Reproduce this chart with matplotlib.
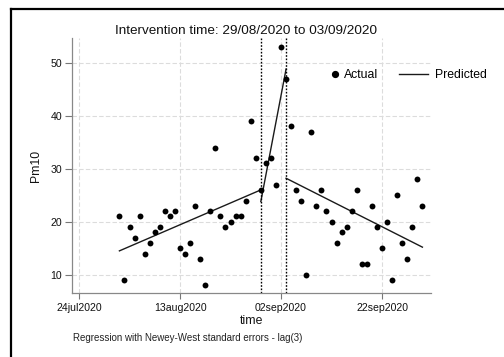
import matplotlib
matplotlib.use("Agg")
import matplotlib.pyplot as plt
import matplotlib.dates as mdates
from matplotlib.lines import Line2D
import pandas as pd

plt.rcParams['font.family'] = ['Liberation Sans', 'DejaVu Sans']

# ---- data ----
dates = pd.date_range("2020-08-01", "2020-09-30", freq="D")
pm10 = [21, 9, 19, 17, 21, 14, 16, 18, 19, 22,
        21, 22, 15, 14, 16, 23, 13, 8, 22, 34,
        21, 19, 20, 21, 21, 24, 39, 32, 26, 31,
        32, 27, 53, 47, 38, 26, 24, 10, 37, 23,
        26, 22, 20, 16, 18, 19, 22, 26, 12, 12,
        23, 19, 15, 20, 9, 25, 16, 13, 19, 28,
        23]

pre_dates = ["2020-08-01", "2020-08-29"]
pre_pred = [14.5, 26.0]
int_dates = ["2020-08-29", "2020-09-03"]
int_pred = [23.8, 48.8]
post_dates = ["2020-09-03", "2020-09-30"]
post_pred = [28.2, 15.2]

intervention = ["2020-08-29", "2020-09-03"]
xtick_dates = ["2020-07-24", "2020-08-13", "2020-09-02", "2020-09-22"]
xtick_labels = ["24jul2020", "13aug2020", "02sep2020", "22sep2020"]
yticks = [10, 20, 30, 40, 50]

title = "Intervention time: 29/08/2020 to 03/09/2020"
note = "Regression with Newey-West standard errors - lag(3)"

# ---- figure ----
W, H = 504, 357
fig = plt.figure(figsize=(W / 100, H / 100), dpi=100)
fig.patch.set_facecolor("white")
ax = fig.add_axes([72 / W, 1 - 293 / H, (431 - 72) / W, (293 - 38) / H])

to_num = lambda ds: mdates.date2num(pd.to_datetime(ds))

ax.set_xlim(to_num(["2020-07-24"])[0] - 1.39, to_num(["2020-07-24"])[0] + 69.7)
ax.set_ylim(6.55, 54.66)

grid_kw = dict(color="#dcdcdc", lw=0.8, ls=(0, (4, 2)), zorder=0)
for v in yticks:
    ax.axhline(v, **grid_kw)
for d in to_num(xtick_dates):
    ax.axvline(d, **grid_kw)

ax.scatter(to_num(dates), pm10, s=18, color="black", zorder=3, linewidths=0)

line_kw = dict(color="#1a1a1a", lw=1.0, zorder=2)
ax.plot(to_num(pre_dates), pre_pred, **line_kw)
ax.plot(to_num(int_dates), int_pred, **line_kw)
ax.plot(to_num(post_dates), post_pred, **line_kw)

for d in to_num(intervention):
    ax.axvline(d, color="black", lw=1.0, ls=(0, (1.2, 1.2)), zorder=2)

ax.set_xticks(to_num(xtick_dates))
ax.set_xticklabels(xtick_labels, fontsize=7.6, color="#111111")
ax.set_yticks(yticks)
ax.set_yticklabels([str(v) for v in yticks], fontsize=7.6, color="#111111")
ax.tick_params(axis="both", direction="out", color="#777777", width=0.8)
ax.tick_params(axis="y", length=5, pad=2)
ax.tick_params(axis="x", length=4, pad=3)

for s in ["top", "right"]:
    ax.spines[s].set_visible(False)
for s in ["left", "bottom"]:
    ax.spines[s].set_color("#888888")
    ax.spines[s].set_linewidth(0.9)

ax.set_xlabel("time", fontsize=8.8, color="#111111", labelpad=2)
ax.set_ylabel("Pm10", fontsize=8.8, color="#111111", labelpad=6)

fig.text(246 / W, 1 - 31 / H, title, ha="center", va="center", fontsize=9.7, color="#111111")
fig.text(73 / W, 1 - 338 / H, note, ha="left", va="center", fontsize=7.0, color="#222222")

# legends
h1 = Line2D([], [], marker="o", ls="none", color="black", markersize=4.2)
leg1 = ax.legend([h1], ["Actual"], loc="center left", frameon=False,
                 bbox_to_anchor=(330 / W, 1 - 75 / H), bbox_transform=fig.transFigure,
                 fontsize=8.8, handlelength=0.8, handletextpad=0.33, borderpad=0,
                 borderaxespad=0)
ax.add_artist(leg1)
h2 = Line2D([], [], color="#1a1a1a", lw=1.0)
ax.legend([h2], ["Predicted"], loc="center left", frameon=False,
          bbox_to_anchor=(399 / W, 1 - 75 / H), bbox_transform=fig.transFigure,
          fontsize=8.8, handlelength=2.38, handletextpad=0.57, borderpad=0,
          borderaxespad=0)

# outer frame (left and top)
fig.add_artist(Line2D([11 / W, 11 / W], [0, 1 - 9 / H], transform=fig.transFigure,
                      color="black", lw=1.6))
fig.add_artist(Line2D([11 / W, 1], [1 - 9 / H, 1 - 9 / H], transform=fig.transFigure,
                      color="black", lw=1.6))

fig.savefig("out.png", dpi=100, facecolor="white")
